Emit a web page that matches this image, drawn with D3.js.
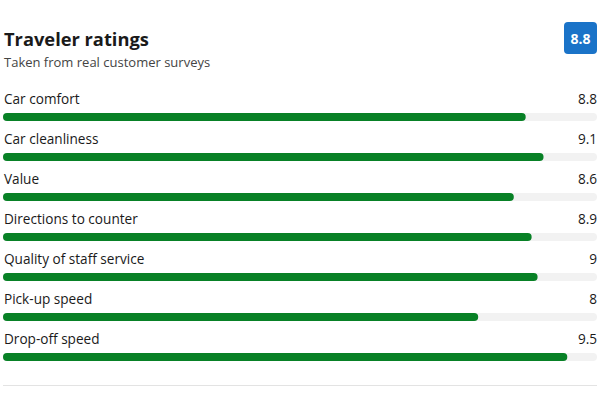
<!DOCTYPE html>
<html><head><meta charset="utf-8">
<script src="https://cdn.jsdelivr.net/npm/d3@7"></script>
<style>body{margin:0;background:#fff;}svg{display:block;font-family:"Open Sans","Noto Sans",sans-serif;}</style>
</head><body><svg id="c" width="605" height="403"></svg>
<script>
const categories = ["Car comfort","Car cleanliness","Value","Directions to counter","Quality of staff service","Pick-up speed","Drop-off speed"];
const values = [8.8, 9.1, 8.6, 8.9, 9, 8, 9.5];
const valueLabels = ["8.8","9.1","8.6","8.9","9","8","9.5"];
const overall = "8.8";
const title = "Traveler ratings";
const subtitle = "Taken from real customer surveys";

const svg = d3.select("#c");
const x = d3.scaleLinear().domain([0,10]).range([3,597]);
const y = d3.scaleBand().domain(categories).range([80,360]);

svg.append("text").attr("x",4).attr("y",46).attr("font-size",18.3).attr("font-weight",700).attr("fill","#1a1a1a").text(title);
svg.append("text").attr("x",4).attr("y",67).attr("font-size",13).attr("fill","#444").text(subtitle);

svg.append("rect").attr("x",564).attr("y",22).attr("width",33).attr("height",32).attr("rx",4).attr("fill","#1a73c8");
svg.append("text").attr("x",580.5).attr("y",44).attr("text-anchor","middle").attr("font-size",14).attr("font-weight",700).attr("fill","#fff").text(overall);

const g = svg.selectAll("g.row").data(categories).join("g").attr("class","row")
  .attr("transform",d=>`translate(0,${y(d)})`);
g.append("text").attr("x",4).attr("y",24).attr("font-size",13.6).attr("font-weight",500).attr("fill","#1a1a1a").text(d=>d);
g.append("text").attr("x",597).attr("y",24).attr("text-anchor","end").attr("font-size",13.6).attr("font-weight",500).attr("fill","#1a1a1a").text((d,i)=>valueLabels[i]);
g.append("rect").attr("x",x(0)).attr("y",33).attr("width",x(10)-x(0)).attr("height",8).attr("rx",4).attr("fill","#f2f2f2");
g.append("rect").attr("x",x(0)).attr("y",33).attr("width",(d,i)=>x(values[i])-x(0)).attr("height",8).attr("rx",4).attr("fill","#088126");

svg.append("line").attr("x1",3).attr("x2",597).attr("y1",385.5).attr("y2",385.5).attr("stroke","#e3e3e3");
</script></body></html>
